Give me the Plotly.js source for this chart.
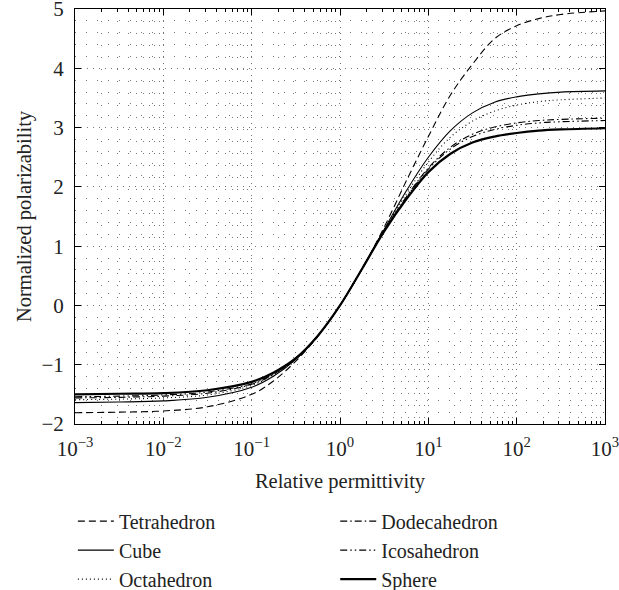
<!DOCTYPE html>
<html><head><meta charset="utf-8">
<script src="https://cdn.plot.ly/plotly-3.0.1.min.js"></script>
<style>body{margin:0;background:#fff}#chart{width:619px;height:590px}</style>
</head><body><div id="chart"></div>
<script>
// Relative permittivity sample points
const permittivity = [0.001, 0.00316, 0.01, 0.0316, 0.1, 0.178, 0.316, 0.562, 1, 1.78, 3.16, 5.62, 10, 17.8, 31.6, 56.2, 100, 178, 316, 1000];
const tetrahedron  = [-1.81, -1.80, -1.78, -1.71, -1.50, -1.27, -0.94, -0.52, 0, 0.62, 1.32, 2.10, 2.85, 3.55, 4.07, 4.50, 4.72, 4.84, 4.91, 4.97];
const cube         = [-1.64, -1.63, -1.61, -1.55, -1.38, -1.19, -0.91, -0.51, 0, 0.62, 1.28, 1.93, 2.50, 2.95, 3.25, 3.43, 3.52, 3.57, 3.60, 3.62];
const octahedron   = [-1.59, -1.58, -1.56, -1.51, -1.35, -1.17, -0.90, -0.51, 0, 0.62, 1.27, 1.88, 2.42, 2.84, 3.11, 3.28, 3.38, 3.44, 3.47, 3.50];
const dodecahedron = [-1.56, -1.55, -1.53, -1.48, -1.33, -1.16, -0.90, -0.51, 0, 0.62, 1.26, 1.83, 2.32, 2.67, 2.89, 3.01, 3.08, 3.12, 3.14, 3.16];
const icosahedron  = [-1.54, -1.53, -1.51, -1.46, -1.32, -1.15, -0.90, -0.51, 0, 0.62, 1.26, 1.82, 2.30, 2.64, 2.85, 2.97, 3.04, 3.08, 3.10, 3.12];
const sphere       = [-1.50, -1.49, -1.48, -1.43, -1.29, -1.13, -0.89, -0.51, 0, 0.62, 1.25, 1.79, 2.25, 2.56, 2.75, 2.85, 2.91, 2.95, 2.97, 2.99];

const seriesNames = ['Tetrahedron', 'Cube', 'Octahedron', 'Dodecahedron', 'Icosahedron', 'Sphere'];
const xTickVals = [0.001, 0.01, 0.1, 1, 10, 100, 1000];
const xTickText = ['10<sup>−3</sup>', '10<sup>−2</sup>', '10<sup>−1</sup>', '10<sup>0</sup>', '10<sup>1</sup>', '10<sup>2</sup>', '10<sup>3</sup>'];
const yTickVals = [-2, -1, 0, 1, 2, 3, 4, 5];
const yTickText = ['−2', '−1', '0', '1', '2', '3', '4', '5'];

const FONT = "'Liberation Serif', 'Times New Roman', serif";
const series = [tetrahedron, cube, octahedron, dodecahedron, icosahedron, sphere];
const styles = [
  {dash: '7px,4px', width: 1.1, legend: 'legend'},
  {dash: 'solid', width: 1.1, legend: 'legend'},
  {dash: '1px,3px', width: 1.1, legend: 'legend'},
  {dash: '7px,3px,1.5px,3px', width: 1.1, legend: 'legend2'},
  {dash: '7px,3px,1.5px,3px,1.5px,3px', width: 1.1, legend: 'legend2'},
  {dash: 'solid', width: 2.2, legend: 'legend2'}
];

const traces = series.map((ys, i) => ({
  type: 'scatter', mode: 'lines', x: permittivity, y: ys, name: seriesNames[i],
  line: {color: '#000', width: styles[i].width, dash: styles[i].dash, shape: 'spline', smoothing: 1},
  legend: styles[i].legend
}));

// minor grid positions 2..9 in each decade
const minorX = [];
for (let e = -3; e < 3; e++) for (let m = 2; m <= 9; m++) minorX.push(m * Math.pow(10, e));

const legendCommon = {
  xref: 'paper', yref: 'paper', yanchor: 'top', xanchor: 'left',
  bgcolor: 'rgba(0,0,0,0)', borderwidth: 0, tracegroupgap: 0,
  font: {family: FONT, size: 20, color: '#222'}, itemwidth: 36
};

const layout = {
  width: 619, height: 590,
  margin: {l: 75, r: 14, t: 9, b: 166, autoexpand: false},
  paper_bgcolor: '#fff', plot_bgcolor: '#fff',
  font: {family: FONT, size: 20, color: '#222'},
  showlegend: true,
  legend: Object.assign({}, legendCommon, {x: -0.004, y: -0.187}),
  legend2: Object.assign({}, legendCommon, {x: 0.491, y: -0.187}),
  xaxis: {
    type: 'log', range: [-3, 3],
    tickmode: 'array', tickvals: xTickVals, ticktext: xTickText, tickangle: 0,
    ticks: 'inside', ticklen: 6, tickcolor: '#000', ticklabelstandoff: 6, ticklabeloverflow: 'allow',
    showline: true, linecolor: '#000', linewidth: 1, mirror: 'ticks',
    showgrid: true, gridcolor: '#777', gridwidth: 1, griddash: '1px,5px',
    zeroline: false,
    minor: {tickmode: 'array', tickvals: minorX, ticks: 'inside', ticklen: 3, tickcolor: '#000',
            showgrid: true, gridcolor: '#777', gridwidth: 1, griddash: '1px,11px'},
    tickfont: {family: FONT, size: 21},
    title: {text: 'Relative permittivity', font: {family: FONT, size: 20.5}, standoff: 13}
  },
  yaxis: {
    range: [-2, 5.002],
    tickmode: 'array', tickvals: yTickVals, ticktext: yTickText,
    ticks: 'inside', ticklen: 6, tickcolor: '#000', ticklabelstandoff: 6, ticklabeloverflow: 'allow',
    showline: true, linecolor: '#000', linewidth: 1, mirror: 'ticks',
    showgrid: true, gridcolor: '#777', gridwidth: 1, griddash: '1px,5px',
    zeroline: false,
    minor: {tickmode: 'array', tickvals: [-1.8,-1.6,-1.4,-1.2,-0.8,-0.6,-0.4,-0.2,0.2,0.4,0.6,0.8,1.2,1.4,1.6,1.8,2.2,2.4,2.6,2.8,3.2,3.4,3.6,3.8,4.2,4.4,4.6,4.8],
            ticks: '', showgrid: true, gridcolor: '#777', gridwidth: 1, griddash: '1px,10px'},
    tickfont: {family: FONT, size: 21},
    title: {text: 'Normalized polarizability', font: {family: FONT, size: 20.5}, standoff: 4}
  }
};

Plotly.newPlot('chart', traces, layout, {displayModeBar: false, staticPlot: true});
</script>
</body></html>
